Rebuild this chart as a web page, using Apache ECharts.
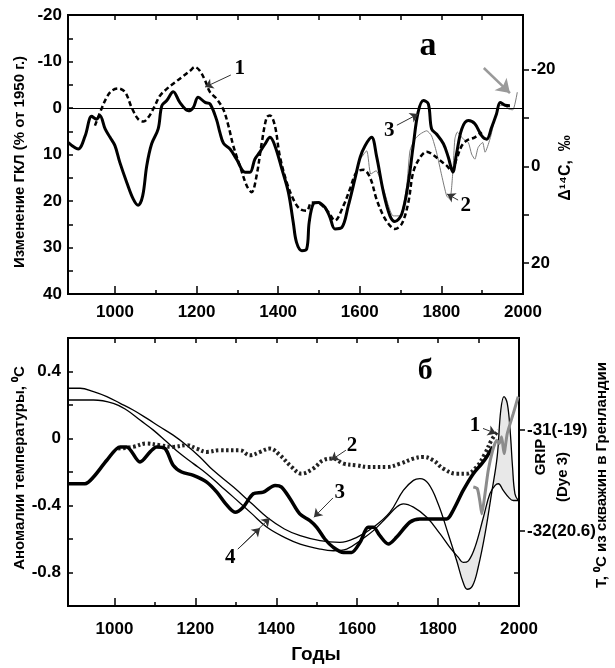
<!DOCTYPE html>
<html><head><meta charset="utf-8">
<script src="https://cdn.jsdelivr.net/npm/echarts@6/dist/echarts.min.js"></script>
<style>html,body{margin:0;padding:0;background:#fff}#c{width:615px;height:668px}</style>
</head><body><div id="c"></div>
<script>
// ---------- Panel a (ГКЛ / Δ14C) ----------
const gklYears = [885,910,927,943,955,963,976,988,1000,1012,1029,1045,1057,1068,1078,1090,1106,1115,1127,1143,1159,1180,1192,1204,1221,1233,1249,1257,1266,1282,1298,1319,1331,1343,1355,1368,1380,1392,1409,1425,1437,1445,1458,1470,1476,1486,1498,1515,1527,1539,1556,1572,1588,1601,1613,1629,1641,1658,1674,1686,1703,1719,1731,1743,1756,1768,1776,1788,1805,1817,1828,1837,1850,1866,1882,1899,1911,1923,1935,1944,1956,1968];
const gklVals  = [7.4,8.8,6.0,1.8,2.4,1.6,4.5,6.3,8.1,11.7,16.0,19.6,20.9,18.9,12.4,7.7,4.5,-0.5,-1.6,-3.5,-1.2,0.6,-0.1,-2.3,-1.2,-0.9,2.5,5.2,7.6,8.8,11.0,13.8,13.8,11.0,9.5,7.7,6.3,8.1,13.1,18.1,24.6,28.9,30.7,30.3,24.6,20.6,20.3,21.4,23.5,26.0,25.7,21.0,15.3,10.6,8.1,6.3,10.3,18.1,23.2,24.4,22.8,16.0,8.1,0.9,-1.6,-0.9,4.5,5.6,7.7,10.6,13.8,9.9,4.5,2.7,3.4,6.0,6.7,4.2,1.3,-1.2,-0.6,-0.5];

const c14Years = [951,967,980,992,1008,1025,1041,1057,1070,1082,1098,1110,1127,1147,1168,1184,1196,1208,1221,1233,1249,1266,1278,1290,1306,1323,1335,1347,1360,1372,1380,1392,1404,1421,1437,1453,1470,1482,1502,1523,1539,1560,1576,1592,1609,1625,1641,1658,1674,1686,1703,1719,1731,1748,1764,1780,1797,1813,1825,1837,1850,1862,1882,1899];
const c14Vals  = [3.8,0.2,-2.3,-3.7,-4.2,-3.4,-0.1,2.4,2.9,2.0,-0.5,-2.6,-4.1,-5.5,-6.9,-8.0,-8.8,-8.0,-5.9,-3.4,-2.0,0.4,3.8,8.1,12.4,16.7,18.1,14.6,7.4,2.0,1.6,3.8,10.3,16.0,19.6,21.7,22.1,20.3,20.6,22.4,24.2,21.0,17.4,13.8,13.3,14.9,19.6,23.2,25.3,26.0,24.9,20.3,13.8,10.6,9.4,10.1,11.3,12.4,13.5,11.0,8.1,7.0,6.3,5.2];

const c14bYears = [1601,1617,1627,1640,1658,1682,1699,1715,1723,1735,1748,1764,1776,1788,1801,1813,1821,1828,1833,1839,1854,1866,1874,1882,1890,1901,1907,1919,1931,1942,1956,1964,1975,1986];
const c14bVals  = [11.0,9.2,14.2,13.5,17.4,23.2,23.2,16.7,9.2,6.7,5.6,4.9,6.0,9.5,14.6,18.9,19.6,13.8,6.7,5.2,6.7,7.4,9.9,11.0,8.5,7.4,9.5,6.7,2.4,-0.5,-0.6,0.2,0.4,-3.4];

// ---------- Panel б (temperature anomalies) ----------
const gripYears = [1887,1897,1903,1908,1916,1924,1935,1945,1951,1957,1963,1971,1986,1998];
const gripVals  = [-0.29,-0.30,-0.37,-0.45,-0.33,-0.19,-0.07,-0.01,-0.03,0.01,-0.09,0.03,0.15,0.25];

const dotYears = [1009,1046,1079,1112,1145,1178,1203,1228,1261,1310,1335,1360,1384,1409,1438,1462,1491,1516,1541,1566,1598,1627,1673,1706,1739,1763,1788,1813,1846,1871,1895,1916,1932,1949];
const dotVals  = [-0.06,-0.05,-0.03,-0.04,-0.05,-0.04,-0.06,-0.08,-0.07,-0.07,-0.10,-0.08,-0.06,-0.10,-0.17,-0.21,-0.18,-0.13,-0.12,-0.15,-0.16,-0.17,-0.17,-0.15,-0.12,-0.11,-0.13,-0.18,-0.21,-0.21,-0.17,-0.09,-0.01,0.05];

const thickYears = [885,927,948,981,1014,1030,1063,1088,1104,1125,1145,1166,1195,1228,1253,1275,1298,1318,1343,1368,1397,1413,1434,1458,1483,1500,1520,1541,1566,1586,1607,1627,1640,1656,1677,1697,1730,1755,1821,1837,1862,1887,1908,1920,1935];
const thickVals  = [-0.27,-0.27,-0.23,-0.13,-0.05,-0.05,-0.14,-0.08,-0.05,-0.06,-0.16,-0.20,-0.22,-0.26,-0.32,-0.39,-0.44,-0.41,-0.33,-0.32,-0.28,-0.29,-0.36,-0.45,-0.49,-0.53,-0.60,-0.65,-0.68,-0.68,-0.62,-0.53,-0.53,-0.58,-0.63,-0.59,-0.50,-0.48,-0.48,-0.43,-0.31,-0.21,-0.15,-0.11,-0.05];

const boreUYears = [885,915,948,981,1014,1046,1080,1112,1145,1178,1211,1244,1294,1340,1377,1420,1459,1508,1557,1599,1640,1681,1714,1739,1755,1776,1800,1825,1846,1862,1872,1885,1899,1916,1932,1946,1955,1963,1971,1978,1984,1990,1998];
const boreUVals  = [0.30,0.30,0.28,0.25,0.21,0.17,0.12,0.07,0.02,-0.04,-0.11,-0.19,-0.29,-0.39,-0.47,-0.54,-0.58,-0.61,-0.62,-0.59,-0.53,-0.44,-0.31,-0.25,-0.24,-0.27,-0.39,-0.57,-0.73,-0.86,-0.90,-0.88,-0.77,-0.57,-0.33,-0.11,0.17,0.25,0.21,0.05,-0.17,-0.33,-0.37];

const boreLYears = [885,948,997,1030,1063,1096,1129,1162,1195,1228,1261,1294,1340,1377,1420,1459,1508,1541,1574,1607,1640,1673,1697,1714,1739,1772,1805,1829,1850,1862,1875,1891,1912,1928,1941,1949,1961,1974,1986,1998];
const boreLVals  = [0.23,0.23,0.21,0.17,0.11,0.05,-0.02,-0.09,-0.15,-0.21,-0.28,-0.35,-0.45,-0.53,-0.59,-0.63,-0.66,-0.67,-0.66,-0.61,-0.55,-0.47,-0.41,-0.39,-0.41,-0.47,-0.57,-0.65,-0.71,-0.74,-0.73,-0.65,-0.47,-0.33,-0.28,-0.27,-0.31,-0.35,-0.37,-0.37];
const shadeFrom = 1846;

// ---------- Axis ticks / labels ----------
const xMin = 885, xMax = 2000;
const xLabelVals = [1000,1200,1400,1600,1800,2000];
const xMajorTicks = [1000,1200,1400,1600,1800];
const xMinorTicks = [1100,1300,1500,1700,1900];
const xTopTicks = [1000,1100,1200,1300,1400,1500,1600,1700,1800,1900];
const aLeftTicks = [-20,-15,-10,-5,0,5,10,15,20,25,30,35,40];
const aLeftLabels = [-20,-10,0,10,20,30,40];
const aRightTicks = [-20,-10,0,10,20];
const aRightLabels = [-20,0,20];
const bLeftTicks = [-1.0,-0.8,-0.6,-0.4,-0.2,0,0.2,0.4,0.6];
const bLeftLabels = [-0.8,-0.4,0,0.4];
const bRightInnerTicks = [-0.8];
const bRightTicks = [-31,-32];
const bRightLabelText = {'-31':'-31(-19)','-32':'-32(20.6)'};

const zip = (xs, ys) => xs.map((x, i) => [x, ys[i]]);
const FONT = "'Liberation Sans', Arial, sans-serif";
const SERIF = "'Liberation Serif', 'Times New Roman', serif";
const tickFont = {fontSize:17, fontWeight:'bold', color:'#000', fontFamily:FONT};

function xAxesFor(g, margin){
  const base = {gridIndex:g, type:'value', min:xMin, max:xMax, axisLine:{show:false, onZero:false}, splitLine:{show:false}};
  return [
    Object.assign({}, base, {position:'bottom',
      axisTick:{inside:true, length:8, lineStyle:{color:'#000', width:1.5}, customValues:xMajorTicks},
      axisLabel:Object.assign({customValues:xLabelVals, margin:margin, formatter:v => String(Math.round(v))}, tickFont)}),
    Object.assign({}, base, {position:'bottom',
      axisTick:{inside:true, length:4, lineStyle:{color:'#000', width:1.5}, customValues:xMinorTicks},
      axisLabel:{show:false}}),
    Object.assign({}, base, {position:'top',
      axisTick:{inside:true, length:5, lineStyle:{color:'#000', width:1.5}, customValues:xTopTicks},
      axisLabel:{show:false}})
  ];
}

function arrows(list, color, width, size){
  return {silent:true, symbol:['none','arrow'], label:{show:false},
    lineStyle:{color:color||'#333', width:width||1, type:'solid'},
    itemStyle:{color:color||'#333'},
    emphasis:{disabled:true},
    data:list.map(a => [{coord:a[0], symbol:'none', symbolSize:1}, {coord:a[1], symbol:'arrow', symbolSize:size||8}])};
}
function texts(list, font){
  return {silent:true, symbol:'rect', symbolSize:1, itemStyle:{color:'rgba(0,0,0,0)'},
    data:list.map(t => ({name:t[0], coord:[t[1], t[2]],
      label:{show:true, position:'inside', fontSize:t[3]||21, fontWeight:'bold', fontFamily:font||SERIF, color:'#000', formatter:t[0]}}))};
}

const chart = echarts.init(document.getElementById('c'), null, {renderer:'canvas'});
const option = {
  animation:false,
  backgroundColor:'#fff',
  grid:[
    {left:68, top:15, width:455, height:279, show:true, borderColor:'#000', borderWidth:2, backgroundColor:'transparent'},
    {left:68, top:338, width:451, height:268, show:true, borderColor:'#000', borderWidth:2, backgroundColor:'transparent'}
  ],
  xAxis: xAxesFor(0, 10).concat(xAxesFor(1, 15)),
  yAxis:[
    {gridIndex:0, type:'value', min:-20, max:40, inverse:true, position:'left', axisLine:{show:false, onZero:false}, splitLine:{show:false},
     axisTick:{inside:true, length:5, lineStyle:{color:'#000', width:1.5}, customValues:aLeftTicks},
     axisLabel:Object.assign({customValues:aLeftLabels, margin:6}, tickFont)},
    {gridIndex:0, type:'value', min:-31.3, max:26.4, inverse:true, position:'right', axisLine:{show:false, onZero:false}, splitLine:{show:false},
     axisTick:{inside:false, length:6, lineStyle:{color:'#000', width:1.5}, customValues:aRightTicks},
     axisLabel:Object.assign({customValues:aRightLabels, margin:8}, tickFont)},
    {gridIndex:1, type:'value', min:-1.0, max:0.6, position:'left', axisLine:{show:false, onZero:false}, splitLine:{show:false},
     axisTick:{inside:true, length:5, lineStyle:{color:'#000', width:1.5}, customValues:bLeftTicks},
     axisLabel:Object.assign({customValues:bLeftLabels, margin:7, formatter:v => (Math.abs(v) < 1e-9 ? '0' : String(+v.toFixed(1)))}, tickFont)},
    {gridIndex:1, type:'value', min:-32.74, max:-30.09, position:'right', axisLine:{show:false, onZero:false}, splitLine:{show:false},
     axisTick:{inside:false, length:6, lineStyle:{color:'#000', width:1.5}, customValues:bRightTicks},
     axisLabel:Object.assign({customValues:bRightTicks, margin:8, formatter:v => bRightLabelText[String(Math.round(v))] || ''}, tickFont)},
    {gridIndex:1, type:'value', min:-1.0, max:0.6, position:'right', axisLine:{show:false, onZero:false}, splitLine:{show:false},
     axisTick:{inside:true, length:5, lineStyle:{color:'#000', width:1.5}, customValues:bRightInnerTicks},
     axisLabel:{show:false}}
  ],
  series:[
    // panel a: thin gray (2)
    {type:'line', xAxisIndex:0, yAxisIndex:0, data:zip(c14bYears, c14bVals), showSymbol:false, smooth:0.2,
     lineStyle:{color:'#7a7a7a', width:1}, z:2,
     markLine:arrows([[[1841,19.8],[1814,18.5]]]),
     markPoint:texts([['2',1860,20.9]])},
    // panel a: dashed (1)
    {type:'line', xAxisIndex:0, yAxisIndex:0, data:zip(c14Years, c14Vals), showSymbol:false, smooth:0.35,
     lineStyle:{color:'#000', width:2.5, type:[5,3]}, z:3,
     markLine:arrows([[[1284,-7.1],[1221,-4.5]]]),
     markPoint:texts([['1',1306,-8.4]])},
    // panel a: solid thick (3)
    {type:'line', xAxisIndex:0, yAxisIndex:0, data:zip(gklYears, gklVals), showSymbol:false, smooth:0.35,
     lineStyle:{color:'#000', width:3}, z:4,
     markLine:arrows([[[1691,3.7],[1743,1.3]]]),
     markPoint:texts([['3',1672,4.9],['a',1767,-13.2,34]])},
    // panel a: zero line
    {type:'line', xAxisIndex:0, yAxisIndex:0, data:[], z:1,
     markLine:{silent:true, symbol:['none','none'], label:{show:false}, lineStyle:{color:'#000', width:1, type:'solid'},
       data:[{yAxis:0}]}},
    // panel a: gray pointer arrow
    {type:'line', xAxisIndex:0, yAxisIndex:0, data:[], z:5,
     markLine:arrows([[[1904,-8.6],[1968,-3.2]]], '#9a9a9a', 2.5, 13)},

    // panel б: shaded band between borehole curves
    {type:'custom', xAxisIndex:3, yAxisIndex:2, data:[[1900,-0.5]], z:1, silent:true,
     renderItem:(params, api) => {
       const up = zip(boreUYears, boreUVals).filter(p => p[0] >= shadeFrom);
       const lo = zip(boreLYears, boreLVals).filter(p => p[0] >= shadeFrom).reverse();
       const pts = up.concat(lo).map(p => api.coord(p));
       return {type:'polygon', shape:{points:pts, smooth:0.2}, style:{fill:'#e8e8e8'}};
     }},
    // borehole curves (4)
    {type:'line', xAxisIndex:3, yAxisIndex:2, data:zip(boreUYears, boreUVals), showSymbol:false, smooth:0.4,
     lineStyle:{color:'#000', width:1.3}, z:2,
     markLine:arrows([[[1305,-0.66],[1360,-0.535]],[[1305,-0.66],[1384,-0.475]]]),
     markPoint:texts([['4',1286,-0.71]])},
    {type:'line', xAxisIndex:3, yAxisIndex:2, data:zip(boreLYears, boreLVals), showSymbol:false, smooth:0.4,
     lineStyle:{color:'#000', width:1.3}, z:2},
    // dotted (2)
    {type:'line', xAxisIndex:3, yAxisIndex:2, data:zip(dotYears, dotVals), showSymbol:false, smooth:0.4,
     lineStyle:{color:'#222', width:4, type:[2.5,2.5], cap:'butt'}, z:3,
     markLine:arrows([[[1572,-0.07],[1535,-0.13]]]),
     markPoint:texts([['2',1587,-0.045],['б',1768,0.40,30]])},
    // thick (3)
    {type:'line', xAxisIndex:3, yAxisIndex:2, data:zip(thickYears, thickVals), showSymbol:false, smooth:0.3,
     lineStyle:{color:'#000', width:3.5}, z:4,
     markLine:arrows([[[1540,-0.355],[1493,-0.47]]]),
     markPoint:texts([['3',1557,-0.325]])},
    // GRIP gray (1)
    {type:'line', xAxisIndex:3, yAxisIndex:2, data:zip(gripYears, gripVals), showSymbol:false, smooth:0.2,
     lineStyle:{color:'#8c8c8c', width:3}, z:5,
     markLine:arrows([[[1911,0.06],[1943,0.03]]]),
     markPoint:texts([['1',1891,0.08]])}
  ],
  graphic:[
    {type:'text', x:20, y:162, rotation:Math.PI/2, style:{text:'Изменение ГКЛ (% от 1950 г.)', font:"bold 15px "+FONT, fill:'#000', align:'center', verticalAlign:'middle'}},
    {type:'text', x:566, y:168, rotation:Math.PI/2, style:{text:'Δ¹⁴C,  ‰', font:"bold 16px "+FONT, fill:'#000', align:'center', verticalAlign:'middle'}},
    {type:'text', x:20, y:468, rotation:Math.PI/2, style:{text:'Аномалии температуры, ⁰С', font:"bold 15px "+FONT, fill:'#000', align:'center', verticalAlign:'middle'}},
    {type:'text', x:541, y:457, rotation:Math.PI/2, style:{text:'GRIP', font:"bold 15px "+FONT, fill:'#000', align:'center', verticalAlign:'middle'}},
    {type:'text', x:563, y:477, rotation:Math.PI/2, style:{text:'(Dye 3)', font:"bold 15px "+FONT, fill:'#000', align:'center', verticalAlign:'middle'}},
    {type:'text', x:602, y:475, rotation:Math.PI/2, style:{text:'Т, ⁰С из скважин в Гренландии', font:"bold 15px "+FONT, fill:'#000', align:'center', verticalAlign:'middle'}},
    {type:'text', x:316, y:655, style:{text:'Годы', font:"bold 19px "+FONT, fill:'#000', align:'center', verticalAlign:'middle'}}
  ]
};
chart.setOption(option);
</script>
</body></html>
